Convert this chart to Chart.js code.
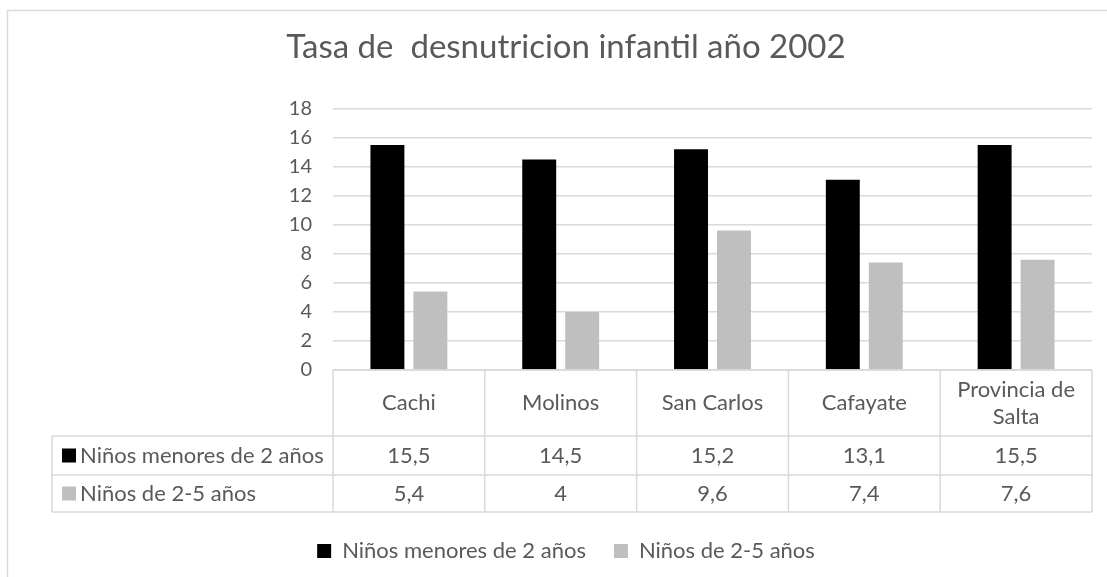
<!DOCTYPE html>
<html lang="es">
<head>
<meta charset="UTF-8">
<title>Tasa de desnutricion infantil año 2002</title>
<script src="https://cdn.jsdelivr.net/npm/chart.js"></script>
<style>
    html, body { margin: 0; padding: 0; background: #ffffff; }
    #wrap { width: 1107px; height: 577px; position: relative; }
</style>
</head>
<body>
<div id="wrap"><canvas id="chart" width="1107" height="577"></canvas></div>
<script>
    // data
    const categories = ['Cachi', 'Molinos', 'San Carlos', 'Cafayate', ['Provincia de', 'Salta']];
    const seriesNames = ['Niños menores de 2 años', 'Niños de 2-5 años'];
    const menores2 = [15.5, 14.5, 15.2, 13.1, 15.5];
    const de2a5 = [5.4, 4, 9.6, 7.4, 7.6];
    const yTicks = [0, 2, 4, 6, 8, 10, 12, 14, 16, 18];

    const textColor = '#595959';
    const lineColor = '#d9d9d9';
    const fontFamily = 'Lato, "Open Sans", sans-serif';
    const colors = ['#000000', '#bfbfbf'];

    const fmt = v => String(v).replace('.', ',');

    // frame + data table under the plot
    const tablePlugin = {
        id: 'dataTable',
        beforeDraw(chart) {
            const ctx = chart.ctx;
            ctx.save();
            ctx.strokeStyle = lineColor;
            ctx.lineWidth = 1.5;
            ctx.beginPath();
            ctx.moveTo(7.5, 600);
            ctx.lineTo(7.5, 10.5);
            ctx.lineTo(1110, 10.5);
            ctx.stroke();
            ctx.restore();
        },
        afterDraw(chart) {
            const ctx = chart.ctx;
            const x = chart.scales.x;
            const area = chart.chartArea;
            const left = area.left, right = area.right;
            const colW = (right - left) / categories.length;
            const top = area.bottom;
            const r1 = top + 66, r2 = r1 + 39, bottom = r2 + 37;
            const labelLeft = 52;

            ctx.save();
            ctx.strokeStyle = lineColor;
            ctx.lineWidth = 1.5;
            ctx.beginPath();
            // header row top (axis line)
            ctx.moveTo(left, top); ctx.lineTo(right, top);
            // body rows
            [r1, r2, bottom].forEach(yy => { ctx.moveTo(labelLeft, yy); ctx.lineTo(right, yy); });
            ctx.moveTo(labelLeft, r1); ctx.lineTo(labelLeft, bottom);
            for (let i = 0; i <= categories.length; i++) {
                const xx = left + i * colW;
                ctx.moveTo(xx, top); ctx.lineTo(xx, bottom);
            }
            ctx.stroke();

            ctx.fillStyle = textColor;
            ctx.font = '22px ' + fontFamily;
            ctx.textAlign = 'center';
            ctx.textBaseline = 'middle';
            categories.forEach((c, i) => {
                const cx = x.getPixelForValue(i);
                const lines = Array.isArray(c) ? c : [c];
                const lh = 27;
                const y0 = (top + r1) / 2 - (lines.length - 1) * lh / 2;
                lines.forEach((t, k) => ctx.fillText(t, cx, y0 + k * lh));
                ctx.fillText(fmt(menores2[i]), cx, (r1 + r2) / 2);
                ctx.fillText(fmt(de2a5[i]), cx, (r2 + bottom) / 2);
            });

            // row labels with legend keys
            ctx.textAlign = 'left';
            [[r1, r2], [r2, bottom]].forEach(([a, b], k) => {
                const cy = (a + b) / 2;
                ctx.fillStyle = colors[k];
                ctx.fillRect(62, cy - 7, 14, 14);
                ctx.fillStyle = textColor;
                ctx.fillText(seriesNames[k], 80, cy);
            });
            ctx.restore();
        }
    };

    new Chart(document.getElementById('chart'), {
        type: 'bar',
        data: {
            labels: categories,
            datasets: [
                { label: seriesNames[0], data: menores2, backgroundColor: colors[0] },
                { label: seriesNames[1], data: de2a5, backgroundColor: colors[1] }
            ]
        },
        options: {
            responsive: false,
            animation: false,
            devicePixelRatio: 1,
            categoryPercentage: 0.566,
            barPercentage: 0.79,
            layout: { padding: { top: 0, left: 40, right: 15, bottom: 5 } },
            plugins: {
                title: {
                    display: true,
                    text: 'Tasa de  desnutricion infantil año 2002',
                    color: textColor,
                    font: { family: fontFamily, size: 33, weight: 'normal' },
                    padding: { top: 28, bottom: 41 }
                },
                legend: {
                    position: 'bottom',
                    labels: {
                        color: textColor,
                        font: { family: fontFamily, size: 22 },
                        boxWidth: 14,
                        boxHeight: 14,
                        padding: 28
                    }
                },
                tooltip: { enabled: false }
            },
            scales: {
                x: {
                    grid: { display: false },
                    border: { display: false },
                    ticks: { display: false },
                    afterFit(scale) { scale.height = 142; }
                },
                y: {
                    min: yTicks[0],
                    max: yTicks[yTicks.length - 1],
                    afterBuildTicks(scale) { scale.ticks = yTicks.map(v => ({ value: v })); },
                    grid: { color: lineColor, lineWidth: 1.5, drawTicks: false },
                    border: { display: false },
                    ticks: {
                        color: textColor,
                        font: { family: fontFamily, size: 20 },
                        padding: 21
                    },
                    afterFit(scale) { scale.width = 293; }
                }
            }
        },
        plugins: [tablePlugin]
    });
</script>
</body>
</html>
